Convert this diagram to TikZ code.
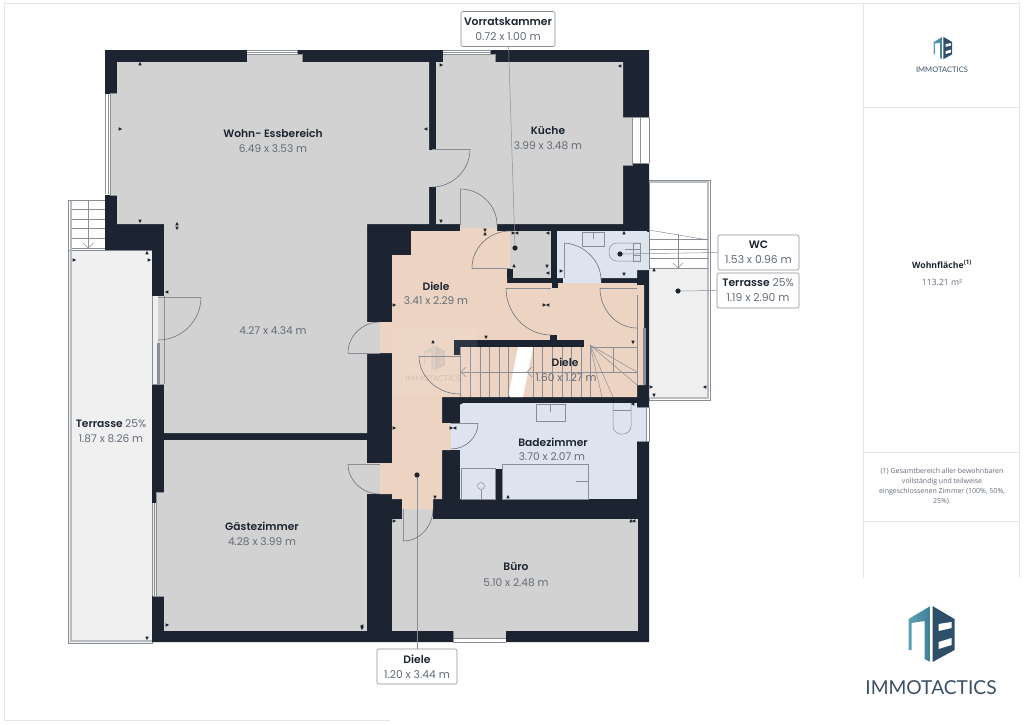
\documentclass[tikz,border=0pt]{standalone}
\usepackage{fontspec}
\setmainfont{Poppins}[BoldFont={Poppins SemiBold}]
\newfontfamily\notefont{Open Sans}
\newfontfamily\logofont{Lato}
\usetikzlibrary{calc}

\definecolor{wallc}{HTML}{1B2430}
\definecolor{greyroom}{HTML}{D2D2D2}
\definecolor{peachroom}{HTML}{ECD3C2}
\definecolor{blueroom}{HTML}{DDE3EF}
\definecolor{terracec}{HTML}{F0F0F0}
\definecolor{framec}{HTML}{E6E6E6}
\definecolor{linec}{HTML}{8A8F96}
\definecolor{dimc}{HTML}{636B78}
\definecolor{logoa}{HTML}{5BA0B5}
\definecolor{logob}{HTML}{3F7F98}
\definecolor{logoc}{HTML}{2E4F6A}
\definecolor{logot}{HTML}{3A4F66}

\tikzset{
  roomname/.style={font=\fontsize{10.7}{12}\selectfont\bfseries, text=wallc, inner sep=0pt},
  roomsize/.style={font=\fontsize{10.6}{12}\selectfont, text=dimc, inner sep=0pt},
  callout/.style={draw=linec, fill=white, line width=0.6pt, rounded corners=2pt, align=center,
    font=\fontsize{10.8}{15}\selectfont, text=dimc, inner sep=0pt, minimum height=35pt},
  fixture/.style={draw=linec, line width=1pt},
  thinline/.style={draw=linec, line width=0.5pt},
  railing/.style={draw=linec!60, line width=1.5pt},
  winline/.style={draw=linec, line width=0.8pt},
  leaf/.style={draw=linec, line width=1pt},
  swing/.style={draw=linec!80!black, line width=0.6pt},
  logomark/.pic={
    \shade[left color=logoa, right color=logob] (-22,-15) -- (0,-28) -- (0,28) -- (-6,25) -- (-6,-13) -- (-19,-11) -- (-19,16) -- (-22,16) -- cycle;
    \fill[logoc] (2,-28) -- (24,-15) -- (24,16) -- (2,28) -- cycle;
    \fill[white] (8,-10) -- (21,-12) -- (21,-6) -- (8,-3) -- cycle;
    \fill[white] (8,8) -- (21,4) -- (21,11) -- (8,15) -- cycle;
  },
}

\begin{document}
\begin{tikzpicture}[x=1pt,y=-1pt]
    \useasboundingbox (0,0) rectangle (1024,724);

    % panel on the right
    \draw[framec] (390,720) -- (4,720) -- (4,3) -- (1019.5,3) -- (1019.5,578);
    \draw[framec] (863.5,3) -- (863.5,578);
    \draw[framec] (863.5,107) -- (1019.5,107);
    \draw[framec] (863.5,452) -- (1019.5,452);
    \draw[framec] (863.5,521) -- (1019.5,521);

    % terraces
    \draw[thinline, fill=white] (649,180) rectangle (710,400);
    \fill[terracec] (649,268) rectangle (708,398);
    \draw[railing] (649,182) -- (708,182) -- (708,398) -- (649,398);
    \draw[thinline, fill=terracec] (68,250) -- (68,643) -- (152,643) -- (152,250) -- cycle;
    \draw[railing] (71,200) -- (71,641) -- (152,641);
    \draw[thinline] (68,250) -- (68,200) -- (105,200);
    \draw[thinline] (71.5,250) -- (152,250);
    \foreach \y in {209,219,228,238,248}
        \draw[thinline] (71.5,\y) -- (105,\y);
    \draw[thinline] (88.3,200) -- (88.3,248);
    \draw[thinline] (83,243) -- (88.3,248) -- (93.6,243);
    \foreach \y in {239,249,258,268}
        \draw[thinline] (649,\y) -- (708,\y);
    \draw[thinline] (649,230) -- (708,240);
    \draw[thinline] (678,234) -- (678,268);
    \draw[thinline] (673,263) -- (678,268) -- (683,263);

    % walls, the rooms are put on top
    \fill[wallc] (105,50) -- (649,50) -- (649,642) -- (152,642) -- (152,250) -- (105,250) -- cycle;

    \fill[greyroom] (117,62) -- (429,62) -- (429,224) -- (367,224) -- (367,433) -- (164,433) -- (164,224) -- (117,224) -- cycle; % wohn
    \fill[greyroom] (436,62) -- (623,62) -- (623,224) -- (497,224) -- (497,228) -- (460,228) -- (460,224) -- (436,224) -- cycle; % kueche
    \fill[greyroom] (429,150) rectangle (436,187);
    \fill[greyroom] (164,440) rectangle (367,631); % gaeste
    \fill[greyroom] (392,519) rectangle (638,631); % buero
    \fill[greyroom] (402,509) rectangle (433,519);
    \fill[greyroom] (510,231) rectangle (551,278); % vorrat
    \fill[greyroom] (367,322) rectangle (380,353);
    \fill[greyroom] (367,463) rectangle (380,494);

    \fill[peachroom] (402,509) -- (433,509) -- (433,499) -- (442,499) -- (442,450) -- (451,450) -- (451,423) -- (442,423) -- (442,397)
        -- (637,397) -- (637,385) -- (644,385) -- (644,285) -- (637,285) -- (637,283) -- (507,283) -- (507,268) -- (510,268) -- (510,231)
        -- (497,231) -- (497,228) -- (460,228) -- (460,231) -- (411,231) -- (411,255) -- (392,255) -- (392,322)
        -- (380,322) -- (380,353) -- (392,353) -- (392,463) -- (380,463) -- (380,494) -- (392,494) -- (392,499)
        -- (402,499) -- cycle; % diele

    \fill[blueroom] (557,231) -- (647,231) -- (647,270) -- (637,270) -- (637,278) -- (601,278) -- (601,283)
        -- (563,283) -- (563,278) -- (557,278) -- cycle; % wc
    \fill[blueroom] (460,403) rectangle (637,499); % bad
    \fill[blueroom] (451,423) rectangle (460,450);
    \fill[wallc] (495,469) rectangle (502,499);

    \fill[wallc] (454,340) rectangle (584,347); % stair wall
    \fill[wallc] (454,340) rectangle (460,355);
    \fill[wallc] (550,335) rectangle (557,340);
    \fill[wallc] (552,283) rectangle (558,288);
    \fill[wallc] (637,283) rectangle (644,285);
    \fill[wallc] (507,269) rectangle (513,278);

    % windows
    \fill[white] (247,50) rectangle (297,55);
    \fill[greyroom] (247,54.5) rectangle (302,62);
    \draw[winline] (247,50) -- (297,50) -- (297,54.5);
    \draw[thinline] (247,52.2) -- (297,52.2);
    \draw[winline] (247,54.5) -- (302,54.5) -- (302,62);
    \fill[white] (443,50) rectangle (490,55);
    \fill[greyroom] (443,54.5) rectangle (495,62);
    \draw[winline] (443,50) -- (490,50) -- (490,54.5);
    \draw[thinline] (443,52.2) -- (490,52.2);
    \draw[winline] (443,54.5) -- (495,54.5) -- (495,62);
    \fill[white] (105,94) rectangle (110.5,195);
    \fill[greyroom] (110.5,93) rectangle (117,195);
    \draw[winline] (105.5,94) -- (105.5,194);
    \draw[thinline] (108,94) -- (108,194);
    \draw[winline] (110.5,93) -- (110.5,195) -- (117,195);
    \draw[winline] (110.5,93) -- (117,93);
    \fill[greyroom] (623,117) rectangle (632,165);
    \fill[white] (632,117) rectangle (649,163);
    \draw[winline] (623,117) -- (649,117);
    \draw[winline] (623,165) -- (632,165) -- (632,117);
    \draw[winline] (632,163) -- (649,163);
    \draw[thinline] (640,117) -- (640,163);
    \draw[winline] (649,117) -- (649,163);
    \fill[terracec] (152,296) rectangle (158,384);
    \fill[greyroom] (158,296) rectangle (164,384);
    \draw[winline] (152.5,296) -- (152.5,384) -- (164,384);
    \draw[winline] (164,296) -- (164,384);
    \fill[linec] (157,343) rectangle (160,384);
    \fill[terracec] (152,503) rectangle (156.5,596);
    \fill[greyroom] (156.5,492) rectangle (164,596);
    \draw[winline] (152.5,503) -- (152.5,596);
    \draw[thinline] (154.5,503) -- (154.5,596);
    \draw[winline] (156.5,492) -- (156.5,596);
    \draw[winline] (156.5,492) -- (164,492);
    \draw[winline] (152.5,596) -- (164,596);
    \fill[greyroom] (453,631) rectangle (506,638);
    \fill[white] (453,638) rectangle (506,642);
    \draw[winline] (453,638) -- (506,638);
    \draw[winline] (453,631) -- (453,642) -- (506,642);
    \fill[blueroom] (637,407) rectangle (646,442);
    \fill[white] (646,407) rectangle (649,441);
    \draw[winline] (637,407) -- (649,407) -- (649,441) -- (637,441);
    \draw[thinline] (646,407) -- (646,441);
    \fill[blueroom] (647,232) rectangle (649,270);
    \fill[linec] (643,328) rectangle (646,385);

    % stairs
    \fill[white] (518,347) -- (533,347) -- (523,397) -- (508,397) -- cycle;
    \foreach \x in {470,480,489,499,508,533,542,552,562,571,581,590}
        \draw[thinline] (\x,347) -- (\x,397);
    \draw[thinline] (460,347) -- (460,397);
    \draw[thinline] (460,372) -- (637,372);
    \draw[thinline] (590,347) -- (637,347);
    \draw[thinline] (637.5,295) -- (637.5,385);
    \draw[thinline] (613,347) -- (613,372);
    \draw[thinline] (590,345) -- (637,372);
    \draw[thinline] (590,345) -- (637,385);
    \draw[thinline] (590,345) -- (613,397);
    \draw[thinline] (590,345) -- (602,397);
    \draw[thinline] (466,367) -- (461,372) -- (466,377);
    \draw[thinline] (532,367) -- (527,372) -- (532,377);
    \fill[white, opacity=0.08] (392,328) rectangle (477,395); % watermark
    \pic[opacity=0.12, scale=0.45] at (434,358) {logomark};
    \node (markstamp) at (433,379) [font=\logofont\fontsize{8}{8}\selectfont, text=wallc, opacity=0.12, inner sep=0pt] {IMMOTACTICS};

    % fixtures
    \draw[fixture] (582,232) rectangle (604,246);
    \draw[thinline] (593,232) -- (593,239);
    \draw[thinline, rounded corners=8pt] (640,243) -- (609,243) -- (609,261) -- (640,261);
    \draw[thinline] (633,243) rectangle (640,261);
    \draw[thinline] (640,249) -- (625,249);
    \draw[thinline] (640,255) -- (633,255);
    \draw[fixture] (536,404) rectangle (565,421);
    \draw[thinline] (550,404) -- (550,412);
    \draw[thinline, rounded corners=8pt] (613,403) -- (613,434) -- (631,434) -- (631,403);
    \draw[thinline] (613,410) -- (631,410);
    \draw[fixture] (461,468) rectangle (495,499);
    \draw[thinline] (481,486) circle (3.5);
    \draw[thinline] (481,490) -- (481,499);
    \draw[fixture] (502,464) rectangle (588,499);
    \draw[thinline] (576,481) -- (588,481);

    % doors, hinge / open end / shut end
    \foreach \hx/\hy/\ox/\oy/\sx/\sy in {
        158/297/201/297/158/340, 432/149/470/149/432/187, 460/225/460/189/497/225,
        510/268/472/268/510/231, 564/278/564/243/601/280, 551/288/506/288/551/335,
        637/288/600/288/637/328, 380/353/348/353/380/322, 380/464/348/464/380/494,
        460/356/419/356/460/394, 451/423/478/423/451/449, 403/509/403/541/433/509} {
        \draw[leaf] (\hx,\hy) -- (\ox,\oy);
        \draw[swing] (\ox,\oy) .. controls ($(\ox,\oy)+0.55*(\sx,\sy)-0.55*(\hx,\hy)$)
            and ($(\sx,\sy)+0.55*(\ox,\oy)-0.55*(\hx,\hy)$) .. (\sx,\sy);
    }

    % little measure ticks, x / y / turn
    \foreach \tx/\ty/\turn in {
        140/64/0, 120/129/-90, 140/221/180, 177/224/0, 177/228/180, 426/129/90, 441/221/180,
        441/65/-90, 620/66/90, 485/230/180, 485/234/0, 513/233/-90, 517/233/90, 548/233/90,
        514/266/0, 547/266/180, 561/271/-90, 548/273/90, 624/233/0, 624/274/180, 394/305/-90,
        486/337/180, 544/305/-90, 548/305/90, 633/342/180, 433/342/0, 509/398/0, 654/270/0,
        651/387/-90, 705/387/90, 654/395/180, 74/260/-90, 149/260/-90, 167/292/90, 147/253/0,
        394/428/-90, 451/428/-90, 455/428/90, 461/403/-90, 633/404/90, 508/497/0, 435/497/180,
        394/521/-90, 631/521/0, 634/521/90, 147/638/180, 167/625/-90, 362/626/90, 362/628/180} {
        \fill[wallc, shift={(\tx,\ty)}, rotate=\turn] (0,-2.2) -- (-1.7,1.4) -- (1.7,1.4) -- cycle;
    }

    % room labels
    \node[roomname] (wohnname) at (273,133) {Wohn- Essbereich};
    \node[roomsize] (wohnsize) at (273,149) {6.49 x 3.53 m};
    \node[roomsize] (wohnlow) at (273,331) {4.27 x 4.34 m};
    \node[roomname] (kuechename) at (548,131) {Küche};
    \node[roomsize] (kuechesize) at (548,146) {3.99 x 3.48 m};
    \node[roomname] (dielename) at (436,286) {Diele};
    \node[roomsize] (dielesize) at (436,301) {3.41 x 2.29 m};
    \node[roomname] (stairname) at (565,362) {Diele};
    \node[roomsize] (stairsize) at (566,378) {1.60 x 1.27 m};
    \node[roomname] (badname) at (553,442) {Badezimmer};
    \node[roomsize] (badsize) at (552,457) {3.70 x 2.07 m};
    \node[roomname] (gastname) at (262,526) {Gästezimmer};
    \node[roomsize] (gastsize) at (262,542) {4.28 x 3.99 m};
    \node[roomname] (bueroname) at (516,567) {Büro};
    \node[roomsize] (buerosize) at (516,583) {5.10 x 2.48 m};
    \node[roomname] (terrname) at (111,424) {Terrasse \textcolor{dimc}{\mdseries 25\%}};
    \node[roomsize] (terrsize) at (111,439) {1.87 x 8.26 m};

    % callouts and their lines
    \coordinate (dotvorrat) at (515,248);
    \coordinate (dotwc) at (620,254);
    \coordinate (dotterr) at (678,291);
    \coordinate (dotdiele) at (417,475);
    \node[callout, minimum width=94pt] (vorrat) at (508,29) {\textcolor{wallc}{\bfseries Vorratskammer}\\0.72 x 1.00 m};
    \node[callout, minimum width=81pt] (wc) at (758.5,252.5) {\textcolor{wallc}{\bfseries WC}\\1.53 x 0.96 m};
    \node[callout, minimum width=82pt] (terr) at (758,290.5) {\textcolor{wallc}{\bfseries Terrasse} 25\%\\1.19 x 2.90 m};
    \node[callout, minimum width=80pt] (diele) at (417,666.5) {\textcolor{wallc}{\bfseries Diele}\\1.20 x 3.44 m};
    \draw[thinline] (dotvorrat) -- (vorrat);
    \draw[thinline] (dotwc) -- (wc.west);
    \draw[thinline] (dotterr) -- (terr.west);
    \draw[thinline] (dotdiele) -- (diele.north);
    \foreach \spot in {dotvorrat,dotwc,dotterr,dotdiele}
        \fill[wallc] (\spot) circle (2.6);

    % text of the panel
    \pic[scale=0.4] at (942.5,48) {logomark};
    \node (smallbrand) at (942,70) [font=\logofont\fontsize{7.6}{8}\selectfont, text=logot, inner sep=0pt] {IMMOTACTICS};
    \node (areaname) at (942,264) [font=\notefont\fontsize{8.7}{9}\selectfont\bfseries, text=wallc, inner sep=0pt] {Wohnfläche\textsuperscript{(1)}};
    \node (areavalue) at (942,282) [font=\notefont\fontsize{8.6}{9}\selectfont, text=dimc, inner sep=0pt] {113.21 m²};
    \node (note) at (942,486.5) [font=\notefont\fontsize{7}{10.2}\selectfont, text=dimc, align=center, inner sep=0pt]
        {(1) Gesamtbereich aller bewohnbaren\\vollständig und teilweise\\eingeschlossenen Zimmer (100\%, 50\%,\\25\%).};

    % large brand in the corner
    \pic at (930.5,634) {logomark};
    \node (brand) at (931,688) [font=\logofont\fontsize{19.2}{20}\selectfont, text=logot, inner sep=0pt] {IMMOTACTICS};
\end{tikzpicture}
\end{document}
